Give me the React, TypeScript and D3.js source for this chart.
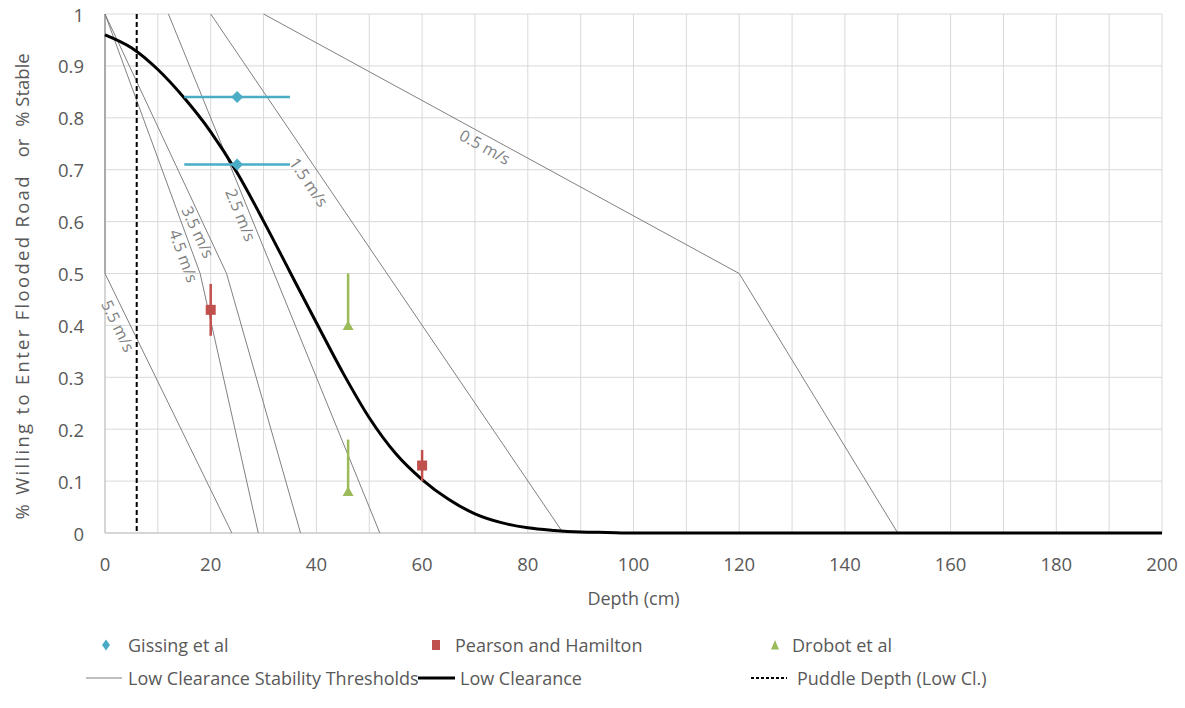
import { useEffect, useRef } from 'react'
import * as d3 from 'd3'

// axis ticks
const depthTicks = [0, 20, 40, 60, 80, 100, 120, 140, 160, 180, 200]
const depthGrid = [0, 10, 20, 30, 40, 50, 60, 70, 80, 90, 100, 110, 120, 130, 140, 150, 160, 170, 180, 190, 200]
const valueTicks = [0, 0.1, 0.2, 0.3, 0.4, 0.5, 0.6, 0.7, 0.8, 0.9, 1]

// Low Clearance curve
const lowClearanceDepth = [0, 5, 10, 15, 20, 25, 30, 35, 40, 45, 50, 55, 60, 65, 70, 75, 80, 85, 90, 95, 100, 120, 140, 160, 180, 200]
const lowClearanceValue = [0.96, 0.935, 0.893, 0.838, 0.773, 0.694, 0.601, 0.503, 0.405, 0.309, 0.222, 0.153, 0.103, 0.065, 0.037, 0.02, 0.01, 0.005, 0.002, 0.001, 0, 0, 0, 0, 0, 0]

// stability thresholds [depth, value]
const thresholdNames = ['0.5 m/s', '1.5 m/s', '2.5 m/s', '3.5 m/s', '4.5 m/s', '5.5 m/s']
const threshold05: [number, number][] = [[30, 1], [120, 0.5], [150, 0]]
const threshold15: [number, number][] = [[20, 1], [86.7, 0]]
const threshold25: [number, number][] = [[12, 1], [52, 0]]
const threshold35: [number, number][] = [[0, 1], [23, 0.5], [37, 0]]
const threshold45: [number, number][] = [[0, 1], [18, 0.5], [29, 0]]
const threshold55: [number, number][] = [[0, 1], [0, 0.5], [24, 0]]
const thresholdLines = [threshold05, threshold15, threshold25, threshold35, threshold45, threshold55]
const labelDepth = [71.9, 38.6, 25.7, 17.6, 14.9, 2.5]
const labelValue = [0.744, 0.676, 0.613, 0.58, 0.534, 0.399]

// survey data
const gissingDepth = [25, 25]
const gissingValue = [0.84, 0.71]
const gissingDepthError = [10, 10]

const pearsonDepth = [20, 60]
const pearsonValue = [0.43, 0.13]
const pearsonValueError = [0.05, 0.03]

const drobotDepth = [46, 46]
const drobotValue = [0.4, 0.08]
const drobotValueErrorUp = [0.1, 0.1]

const puddleDepth = 6

const BLUE = '#4BACC6'
const RED = '#C0504D'
const GREEN = '#9BBB59'
const GREY_LINE = '#808080'
const TEXT = '#595959'
const FONT = '"Open Sans", "Noto Sans", sans-serif'

export default function App() {
  const svgRef = useRef<SVGSVGElement>(null)

  useEffect(() => {
    if (!svgRef.current) return
    const width = 1185
    const height = 708
    const margin = { top: 14, right: 23, bottom: 175, left: 105 }
    const innerWidth = width - margin.left - margin.right
    const innerHeight = height - margin.top - margin.bottom

    const svg = d3.select(svgRef.current)
    svg.selectAll('*').remove()
    svg.attr('width', width).attr('height', height)

    const g = svg.append('g').attr('transform', `translate(${margin.left},${margin.top})`)

    const x = d3.scaleLinear().domain([0, 200]).range([0, innerWidth])
    const y = d3.scaleLinear().domain([0, 1]).range([innerHeight, 0])

    // grid
    g.append('g')
      .selectAll('line')
      .data(depthGrid)
      .join('line')
      .attr('x1', d => x(d))
      .attr('x2', d => x(d))
      .attr('y1', 0)
      .attr('y2', innerHeight)
      .attr('stroke', '#d9d9d9')
      .attr('stroke-width', 1)

    g.append('g')
      .selectAll('line')
      .data(valueTicks)
      .join('line')
      .attr('x1', 0)
      .attr('x2', innerWidth)
      .attr('y1', d => y(d))
      .attr('y2', d => y(d))
      .attr('stroke', '#d9d9d9')
      .attr('stroke-width', 1)

    // axis lines
    g.append('line')
      .attr('x1', 0).attr('x2', innerWidth)
      .attr('y1', innerHeight).attr('y2', innerHeight)
      .attr('stroke', '#bfbfbf').attr('stroke-width', 1)
    g.append('line')
      .attr('x1', 0).attr('x2', 0)
      .attr('y1', 0).attr('y2', innerHeight)
      .attr('stroke', '#bfbfbf').attr('stroke-width', 1)

    // tick labels
    g.append('g')
      .selectAll('text')
      .data(depthTicks)
      .join('text')
      .attr('x', d => x(d))
      .attr('y', innerHeight + 30)
      .attr('text-anchor', 'middle')
      .attr('dominant-baseline', 'central')
      .attr('font-family', FONT)
      .attr('font-size', 18.5)
      .attr('fill', TEXT)
      .text(d => String(d))

    g.append('g')
      .selectAll('text')
      .data(valueTicks)
      .join('text')
      .attr('x', -21)
      .attr('y', d => y(d))
      .attr('text-anchor', 'end')
      .attr('dominant-baseline', 'central')
      .attr('font-family', FONT)
      .attr('font-size', 18.5)
      .attr('fill', TEXT)
      .text(d => (d === 0 || d === 1 ? String(d) : d.toFixed(1)))

    // axis titles
    g.append('text')
      .attr('x', innerWidth / 2)
      .attr('y', innerHeight + 65)
      .attr('text-anchor', 'middle')
      .attr('dominant-baseline', 'central')
      .attr('font-family', FONT)
      .attr('font-size', 18)
      .attr('fill', TEXT)
      .text('Depth (cm)')

    // y title in three parts, as in the original
    const yTitle = svg.append('g')
      .attr('font-family', FONT)
      .attr('font-size', 18.5)
      .attr('fill', TEXT)
    yTitle.append('text')
      .attr('transform', 'translate(21,348) rotate(-90)')
      .attr('text-anchor', 'middle')
      .attr('dominant-baseline', 'central')
      .attr('textLength', 343)
      .attr('lengthAdjust', 'spacing')
      .text('% Willing to Enter Flooded Road')
    yTitle.append('text')
      .attr('transform', 'translate(21,148) rotate(-90)')
      .attr('text-anchor', 'middle')
      .attr('dominant-baseline', 'central')
      .text('or')
    yTitle.append('text')
      .attr('transform', 'translate(21,90) rotate(-90)')
      .attr('text-anchor', 'middle')
      .attr('dominant-baseline', 'central')
      .text('% Stable')

    // threshold lines
    const line = d3.line<[number, number]>()
      .x(d => x(d[0]))
      .y(d => y(d[1]))

    g.append('g')
      .selectAll('path')
      .data(thresholdLines)
      .join('path')
      .attr('d', d => line(d))
      .attr('fill', 'none')
      .attr('stroke', GREY_LINE)
      .attr('stroke-width', 1)

    // threshold labels, rotated along their segment
    thresholdNames.forEach((name, i) => {
      const pts = thresholdLines[i]
      const v = labelValue[i]
      let seg = [pts[0], pts[pts.length - 1]]
      for (let k = 1; k < pts.length; k++) {
        const a = pts[k - 1]
        const b = pts[k]
        if (a[0] !== b[0] && v <= a[1] && v >= b[1]) seg = [a, b]
      }
      const angle = Math.atan2(y(seg[1][1]) - y(seg[0][1]), x(seg[1][0]) - x(seg[0][0])) * 180 / Math.PI
      g.append('text')
        .attr('transform', `translate(${x(labelDepth[i])},${y(v)}) rotate(${angle})`)
        .attr('text-anchor', 'middle')
        .attr('dominant-baseline', 'central')
        .attr('font-family', FONT)
        .attr('font-size', 16)
        .attr('fill', '#7f7f7f')
        .text(name)
    })

    // puddle depth
    g.append('line')
      .attr('x1', x(puddleDepth)).attr('x2', x(puddleDepth))
      .attr('y1', 0).attr('y2', innerHeight)
      .attr('stroke', '#000').attr('stroke-width', 2)
      .attr('stroke-dasharray', '5,3')

    // low clearance curve
    const curve = d3.line<number>()
      .x((_, i) => x(lowClearanceDepth[i]))
      .y(d => y(d))
      .curve(d3.curveMonotoneX)

    g.append('path')
      .datum(lowClearanceValue)
      .attr('d', curve)
      .attr('fill', 'none')
      .attr('stroke', '#000')
      .attr('stroke-width', 3)

    // Gissing: horizontal error bars + diamonds
    gissingDepth.forEach((d, i) => {
      g.append('line')
        .attr('x1', x(d - gissingDepthError[i])).attr('x2', x(d + gissingDepthError[i]))
        .attr('y1', y(gissingValue[i])).attr('y2', y(gissingValue[i]))
        .attr('stroke', BLUE).attr('stroke-width', 2.5)
      g.append('path')
        .attr('transform', `translate(${x(d)},${y(gissingValue[i])})`)
        .attr('d', 'M0,-6L6,0L0,6L-6,0Z')
        .attr('fill', BLUE)
    })

    // Pearson and Hamilton: vertical error bars + squares
    pearsonDepth.forEach((d, i) => {
      g.append('line')
        .attr('x1', x(d)).attr('x2', x(d))
        .attr('y1', y(pearsonValue[i] + pearsonValueError[i]))
        .attr('y2', y(pearsonValue[i] - pearsonValueError[i]))
        .attr('stroke', RED).attr('stroke-width', 2.5)
      g.append('rect')
        .attr('x', x(d) - 5).attr('y', y(pearsonValue[i]) - 5)
        .attr('width', 10).attr('height', 10)
        .attr('fill', RED)
    })

    // Drobot: upward error bars + triangles
    drobotDepth.forEach((d, i) => {
      g.append('line')
        .attr('x1', x(d)).attr('x2', x(d))
        .attr('y1', y(drobotValue[i] + drobotValueErrorUp[i]))
        .attr('y2', y(drobotValue[i]))
        .attr('stroke', GREEN).attr('stroke-width', 2.5)
      g.append('path')
        .attr('transform', `translate(${x(d)},${y(drobotValue[i])})`)
        .attr('d', 'M0,-5L5.5,4.5L-5.5,4.5Z')
        .attr('fill', GREEN)
    })

    // legend
    const legend = svg.append('g').attr('font-family', FONT).attr('font-size', 18).attr('fill', TEXT)
    const row1 = 645
    const row2 = 678

    legend.append('path').attr('transform', `translate(106,${row1})`).attr('d', 'M0,-5.5L4,0L0,5.5L-4,0Z').attr('fill', BLUE)
    legend.append('text').attr('x', 128).attr('y', row1).attr('dominant-baseline', 'central').text('Gissing et al')

    legend.append('rect').attr('x', 432).attr('y', row1 - 5).attr('width', 8).attr('height', 10).attr('fill', RED)
    legend.append('text').attr('x', 455).attr('y', row1).attr('dominant-baseline', 'central').text('Pearson and Hamilton')

    legend.append('path').attr('transform', `translate(775,${row1})`).attr('d', 'M0,-5L4,4.5L-4,4.5Z').attr('fill', GREEN)
    legend.append('text').attr('x', 792).attr('y', row1).attr('dominant-baseline', 'central').text('Drobot et al')

    legend.append('line').attr('x1', 86).attr('x2', 122).attr('y1', row2).attr('y2', row2).attr('stroke', GREY_LINE).attr('stroke-width', 1)
    legend.append('text').attr('x', 128).attr('y', row2).attr('dominant-baseline', 'central').text('Low Clearance Stability Thresholds')

    legend.append('line').attr('x1', 418).attr('x2', 455).attr('y1', row2).attr('y2', row2).attr('stroke', '#000').attr('stroke-width', 3)
    legend.append('text').attr('x', 460).attr('y', row2).attr('dominant-baseline', 'central').text('Low Clearance')

    legend.append('line').attr('x1', 751).attr('x2', 787).attr('y1', row2).attr('y2', row2).attr('stroke', '#000').attr('stroke-width', 2).attr('stroke-dasharray', '3,2')
    legend.append('text').attr('x', 797).attr('y', row2).attr('dominant-baseline', 'central').text('Puddle Depth (Low Cl.)')
  }, [])

  return (
    <svg
      ref={svgRef}
      style={{ position: 'absolute', left: 0, top: 0, display: 'block', background: '#fff' }}
    />
  )
}
